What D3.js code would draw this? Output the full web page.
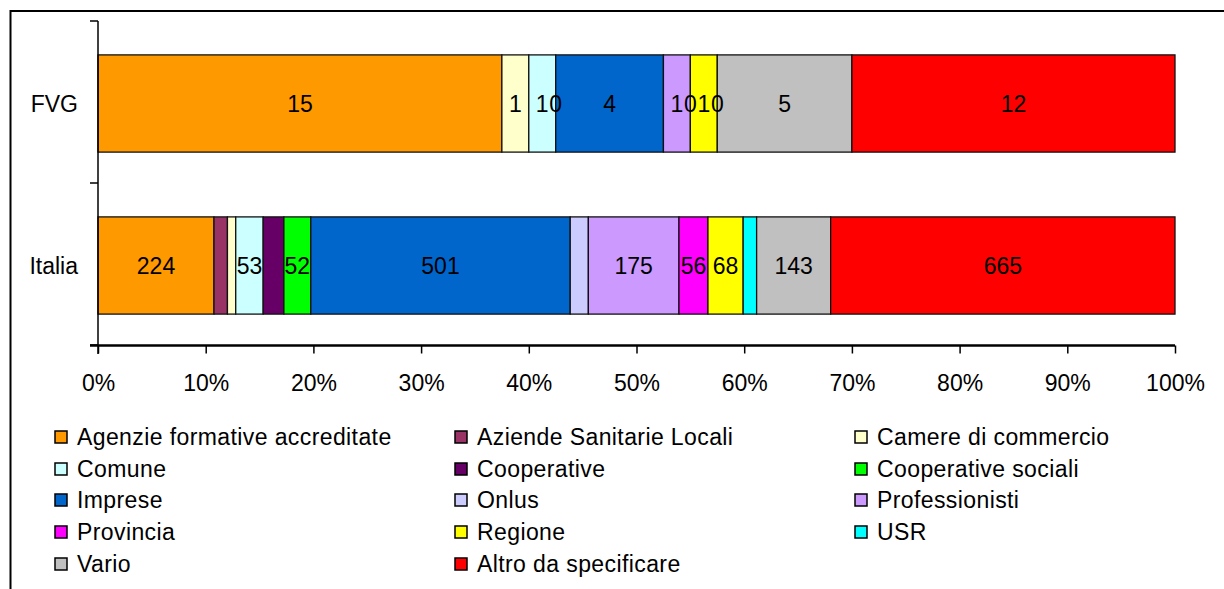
<!DOCTYPE html>
<html>
<head>
<meta charset="utf-8">
<script src="https://cdn.jsdelivr.net/npm/d3@7"></script>
<style>
	body { margin: 0; background: white; }
	text { font-family: 'Liberation Sans', Arial, sans-serif; fill: black; }
</style>
</head>
<body>
<div id="chart"></div>
<script>

var categories = ['FVG', 'Italia'];

var seriesNames = ['Agenzie formative accreditate', 'Aziende Sanitarie Locali', 'Camere di commercio',
	'Comune', 'Cooperative', 'Cooperative sociali', 'Imprese', 'Onlus', 'Professionisti',
	'Provincia', 'Regione', 'USR', 'Vario', 'Altro da specificare'];

var seriesColors = ['#ff9900', '#993366', '#ffffcc', '#ccffff', '#660066', '#00ff00', '#0066cc',
	'#ccccff', '#cc99ff', '#ff00ff', '#ffff00', '#00ffff', '#c0c0c0', '#ff0000'];

// counts per category (null = empty cell)
var fvgValues    = [15, null, 1, 1, null, 0, 4, null, 1, 0, 1, 0, 5, 12];
var italiaValues = [224, 26, 16, 53, 40, 52, 501, 35, 175, 56, 68, 26, 143, 665];

// labels shown on the bars (null = no label)
var fvgLabels    = [15, null, 1, 1, null, 0, 4, null, 1, 0, 1, 0, 5, 12];
var italiaLabels = [224, null, null, 53, null, 52, 501, null, 175, 56, 68, null, 143, 665];

var xTicks = [0, 0.1, 0.2, 0.3, 0.4, 0.5, 0.6, 0.7, 0.8, 0.9, 1];

var values = [fvgValues, italiaValues];
var labels = [fvgLabels, italiaLabels];

var width = 1224, height = 589;
var fontSize = '23px';

var svg = d3.select('#chart')
			.append('svg')
				.attr('width', width)
				.attr('height', height);

// outer frame
svg.append('rect')
		.attr('x', 10.5)
		.attr('y', 11)
		.attr('width', 1240)
		.attr('height', 600)
		.style('fill', 'none')
		.style('stroke', 'black')
		.style('stroke-width', 2);

var x = d3.scaleLinear().domain([0, 1]).range([98, 1175]);
var y = d3.scaleBand().domain(categories).range([22.5, 346.5]).paddingInner(0.4).paddingOuter(0.2);

// build stacked rows
var rows = categories.map(function(c, i) {
	var total = d3.sum(values[i], function(v) { return v || 0; });
	var acc = 0;
	return values[i].map(function(v, j) {
		var start = acc / total;
		acc += (v || 0);
		return { cat: c, idx: j, value: v, label: labels[i][j], x0: start, x1: acc / total };
	});
});

var bars = svg.append('g');

rows.forEach(function(row) {
	bars.selectAll(null)
		.data(row.filter(function(d) { return d.value; }))
		.enter().append('rect')
			.attr('x', function(d) { return x(d.x0); })
			.attr('y', function(d) { return y(d.cat); })
			.attr('width', function(d) { return x(d.x1) - x(d.x0); })
			.attr('height', y.bandwidth())
			.style('fill', function(d) { return seriesColors[d.idx]; })
			.style('stroke', '#111')
			.style('stroke-width', 1.3);
});

rows.forEach(function(row) {
	bars.selectAll(null)
		.data(row.filter(function(d) { return d.label != null; }))
		.enter().append('text')
			.attr('x', function(d) { return (x(d.x0) + x(d.x1)) / 2; })
			.attr('y', function(d) { return y(d.cat) + y.bandwidth() / 2; })
			.attr('dy', '0.36em')
			.attr('text-anchor', 'middle')
			.style('font-size', fontSize)
			.text(function(d) { return d.label; });
});

// y axis
var yAxis = svg.append('g');
yAxis.append('line')
		.attr('x1', 98).attr('x2', 98)
		.attr('y1', 21).attr('y2', 354)
		.style('stroke', 'black').style('stroke-width', 1.5);
yAxis.selectAll(null)
		.data([21, 183, 345])
		.enter().append('line')
			.attr('x1', 90).attr('x2', 98)
			.attr('y1', function(d) { return d; })
			.attr('y2', function(d) { return d; })
			.style('stroke', 'black').style('stroke-width', 1.5);
yAxis.selectAll(null)
		.data(categories)
		.enter().append('text')
			.attr('x', 78)
			.attr('y', function(d) { return y(d) + y.bandwidth() / 2; })
			.attr('dy', '0.36em')
			.attr('text-anchor', 'end')
			.style('font-size', fontSize)
			.text(function(d) { return d; });

// x axis
var xAxis = d3.axisBottom(x)
				.tickValues(xTicks)
				.tickSize(8)
				.tickFormat(d3.format('.0%'));

svg.append('g')
		.attr('transform', 'translate(0,345.5)')
		.call(xAxis)
		.call(function(g) {
			g.select('.domain').attr('d', 'M90,0H1175').style('stroke-width', 2.5);
			g.selectAll('.tick line').style('stroke-width', 1.5);
			g.selectAll('.tick text')
				.attr('y', 45)
				.attr('dy', '0')
				.style('font-family', "'Liberation Sans', Arial, sans-serif")
				.style('font-size', fontSize);
		});

// legend
var legendCols = [55, 455, 855];
var legendRows = [437, 469, 500, 532, 564];

var legend = svg.append('g');
var items = legend.selectAll(null)
		.data(seriesNames)
		.enter().append('g')
			.attr('transform', function(d, i) {
				return 'translate(' + legendCols[i % 3] + ',' + legendRows[Math.floor(i / 3)] + ')';
			});

items.append('rect')
		.attr('x', 0)
		.attr('y', -6)
		.attr('width', 12)
		.attr('height', 12)
		.style('fill', function(d, i) { return seriesColors[i]; })
		.style('stroke', 'black')
		.style('stroke-width', 1.5);

items.append('text')
		.attr('x', 22)
		.attr('y', 0)
		.attr('dy', '0.36em')
		.style('font-size', fontSize)
		.style('letter-spacing', '0.4px')
		.text(function(d) { return d; });

</script>
</body>
</html>
